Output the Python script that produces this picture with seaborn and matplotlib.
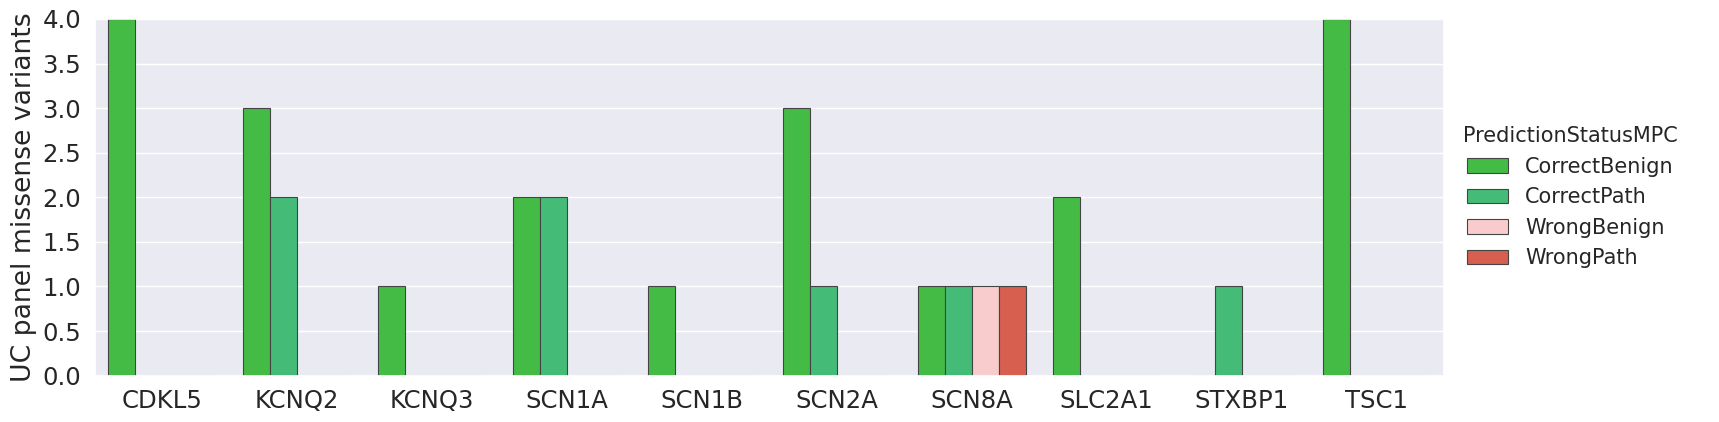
import pandas as pd
import seaborn as sns
import matplotlib.pyplot as plt

sns.set(style="darkgrid", font_scale=1.6)

genes = ['CDKL5', 'KCNQ2', 'KCNQ3', 'SCN1A', 'SCN1B', 'SCN2A', 'SCN8A', 'SLC2A1', 'STXBP1', 'TSC1']
statuses = ['CorrectBenign', 'CorrectPath', 'WrongBenign', 'WrongPath']
correct_benign = [4, 3, 1, 2, 1, 3, 1, 2, 0, 4]
correct_path = [0, 2, 0, 2, 0, 1, 1, 0, 1, 0]
wrong_benign = [0, 0, 0, 0, 0, 0, 1, 0, 0, 0]
wrong_path = [0, 0, 0, 0, 0, 0, 1, 0, 0, 0]
colors = ['#44bb44', '#44bb77', '#f8cccc', '#d65f50']

rows = []
for vals, st in zip([correct_benign, correct_path, wrong_benign, wrong_path], statuses):
    for g, v in zip(genes, vals):
        rows.append({'Gene': g, 'PredictionStatusMPC': st, 'count': v})
df = pd.DataFrame(rows)

fig, ax = plt.subplots(figsize=(17.19, 4.22), dpi=100)
sns.barplot(data=df, x='Gene', y='count', hue='PredictionStatusMPC', hue_order=statuses,
            palette=colors, saturation=1, edgecolor='#444444', linewidth=0.8, ax=ax)
ax.set_ylim(0, 4)
ax.set_yticks([i * 0.5 for i in range(9)])
ax.set_yticklabels([f'{i * 0.5:.1f}' for i in range(9)])
ax.set_xlabel('')
ax.set_ylabel('UC panel missense variants')
leg = ax.legend(title='PredictionStatusMPC', loc='center left', bbox_to_anchor=(1.0, 0.5),
                frameon=False, fontsize=15)
leg.get_title().set_fontsize(15)
plt.subplots_adjust(left=0.055, right=0.84, top=0.955, bottom=0.11)
plt.savefig('out.png', dpi=100)
